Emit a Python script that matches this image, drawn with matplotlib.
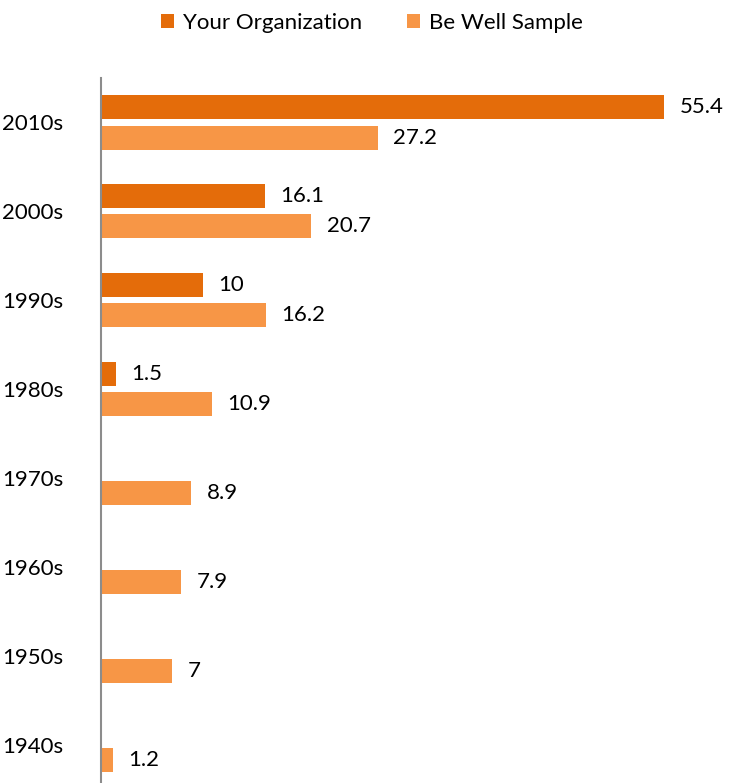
import matplotlib.pyplot as plt
import numpy as np

# data
decades = ["1940s", "1950s", "1960s", "1970s", "1980s", "1990s", "2000s", "2010s"]
your_org = [0, 0, 0, 0, 1.5, 10, 16.1, 55.4]
be_well = [1.2, 7, 7.9, 8.9, 10.9, 16.2, 20.7, 27.2]

dark = "#E46C0A"
light = "#F79646"

plt.rcParams["font.family"] = ["Lato", "DejaVu Sans"]

fig = plt.figure(figsize=(7.31, 7.83), dpi=100)
ax = fig.add_axes([101 / 731, 0, 610 / 731, 705 / 783])

y = np.arange(len(decades))
h = 0.27
off = 0.17

bars_org = ax.barh(y + off, your_org, height=h, color=dark, label="Your Organization")
bars_bw = ax.barh(y - off, be_well, height=h, color=light, label="Be Well Sample")

for bars, vals in [(bars_org, your_org), (bars_bw, be_well)]:
    for b, v in zip(bars, vals):
        if v == 0:
            continue
        ax.text(b.get_width() + 1.5, b.get_y() + b.get_height() / 2, f"{v:g}",
                va="center", ha="left", fontsize=16, color="black")

ax.set_xlim(0, 60)
ax.set_ylim(-0.43, 7.5)
ax.set_yticks(y)
ax.set_yticklabels(decades, fontsize=16)
ax.tick_params(axis="y", length=0, pad=27)
ax.set_xticks([])

for s in ["top", "right", "bottom"]:
    ax.spines[s].set_visible(False)
ax.spines["left"].set_color("#8c8c8c")
ax.spines["left"].set_linewidth(1.5)

fig.legend(loc="center", bbox_to_anchor=(372 / 731, 1 - 23 / 783), ncol=2,
           frameon=False, fontsize=16, handlelength=0.6, handleheight=0.6,
           handletextpad=0.4, columnspacing=2.0)

fig.savefig("out.png", dpi=100)
